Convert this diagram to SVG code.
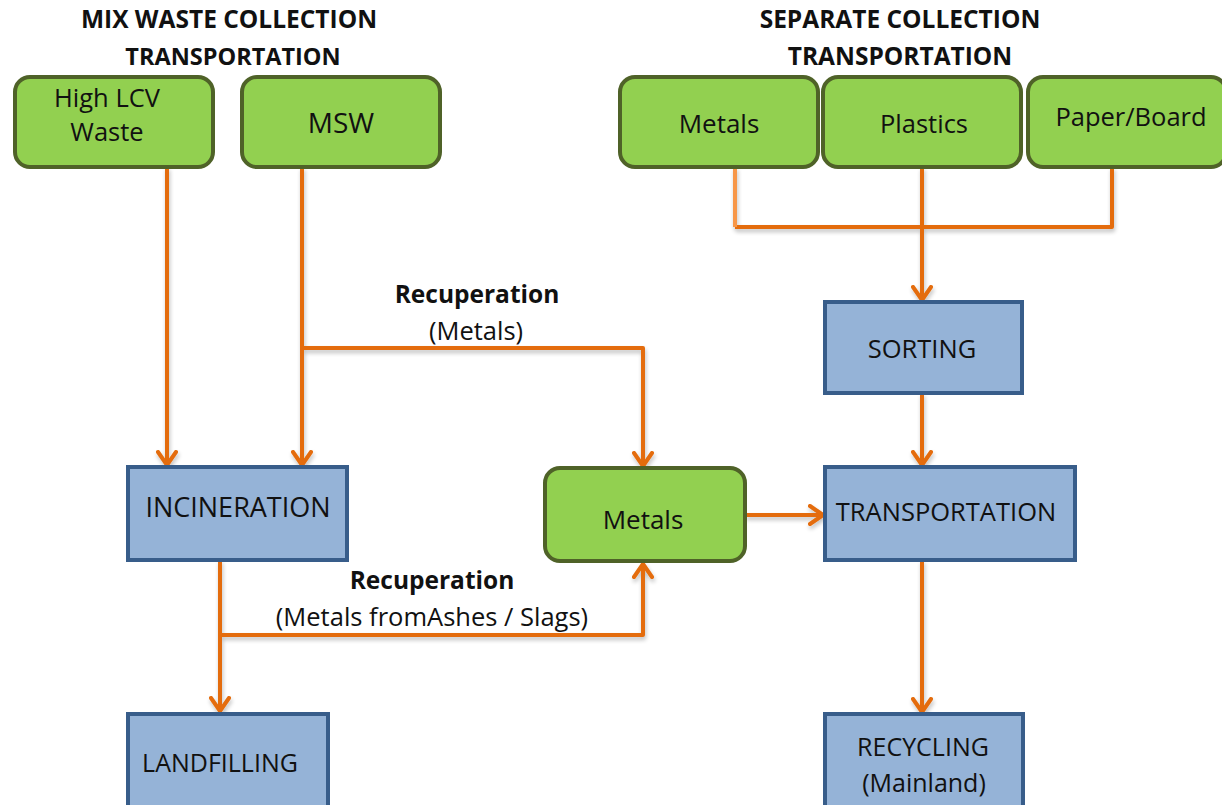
<svg xmlns="http://www.w3.org/2000/svg" width="1222" height="805" viewBox="0 0 1222 805">
<style>
.g{fill:#92D050;stroke:#4F6228;stroke-width:4}
.b{fill:#95B3D7;stroke:#385D8A;stroke-width:4}
.t{font-family:"Open Sans","Noto Sans",sans-serif;font-size:25.5px;fill:#111;text-anchor:middle}
.h{font-family:"Open Sans","Noto Sans",sans-serif;font-size:24.5px;font-weight:bold;fill:#111;text-anchor:middle}
.l{fill:none;stroke:#E46C0A;stroke-width:4;stroke-linejoin:round}
</style>
<defs>
<marker id="ah" viewBox="0 0 17 22" refX="15" refY="11" markerWidth="17" markerHeight="22" markerUnits="userSpaceOnUse" orient="auto">
<path d="M2,2 L15,11 L2,20" fill="none" stroke="#E46C0A" stroke-width="4" stroke-linecap="round" stroke-linejoin="round"/>
</marker>
<filter id="sh" x="-5%" y="-5%" width="110%" height="130%">
<feGaussianBlur in="SourceAlpha" stdDeviation="2"/>
<feOffset dx="1" dy="3"/>
<feComponentTransfer><feFuncA type="linear" slope="0.25"/></feComponentTransfer>
<feMerge><feMergeNode/><feMergeNode in="SourceGraphic"/></feMerge>
</filter>
</defs>
<rect width="1222" height="805" fill="#fff"/>
<text class="h" x="229" y="28">MIX WASTE COLLECTION</text>
<text class="h" x="233" y="65" style="font-size:23.5px">TRANSPORTATION</text>
<text class="h" x="900" y="28">SEPARATE COLLECTION</text>
<text class="h" x="900" y="65">TRANSPORTATION</text>
<g id="connectors" filter="url(#sh)">
<path class="l" d="M167,167 V465" marker-end="url(#ah)"/>
<path class="l" d="M302,167 V465" marker-end="url(#ah)"/>
<path class="l" d="M302,348 H643 V466" marker-end="url(#ah)"/>
<path class="l" d="M220,560 V711" marker-end="url(#ah)"/>
<path class="l" d="M220,635 H643 V564" marker-end="url(#ah)"/>
<path class="l" d="M745,515 H823" marker-end="url(#ah)"/>
<path class="l" d="M735,227 H1112 V167"/>
<path class="l" d="M735,167 V227" style="stroke:#F79646"/>
<path class="l" d="M922,167 V300" marker-end="url(#ah)"/>
<path class="l" d="M922,393 V465" marker-end="url(#ah)"/>
<path class="l" d="M922,560 V712" marker-end="url(#ah)"/>
</g>
<text class="h" x="477" y="303">Recuperation</text>
<text class="t" x="476" y="340">(Metals)</text>
<text class="h" x="432" y="589">Recuperation</text>
<text class="t" x="432" y="626">(Metals fromAshes / Slags)</text>
<g id="n-highlcv"><rect class="g" x="15" y="77" width="198" height="90" rx="15"/><text class="t" x="107" y="107">High LCV</text><text class="t" x="107" y="141">Waste</text></g>
<g id="n-msw"><rect class="g" x="242" y="77" width="198" height="90" rx="15"/><text class="t" x="341" y="133" style="font-size:28px">MSW</text></g>
<g id="n-metals-top"><rect class="g" x="620" y="77" width="198" height="90" rx="15"/><text class="t" x="719" y="133" style="font-size:26px">Metals</text></g>
<g id="n-plastics"><rect class="g" x="823" y="77" width="198" height="90" rx="15"/><text class="t" x="924" y="133">Plastics</text></g>
<g id="n-paper"><rect class="g" x="1028" y="77" width="198" height="90" rx="15"/><text class="t" x="1131" y="126">Paper/Board</text></g>
<g id="n-incineration"><rect class="b" x="128" y="467" width="219" height="93"/><text class="t" x="238" y="517" style="font-size:27px">INCINERATION</text></g>
<g id="n-metals-mid"><rect class="g" x="545" y="468" width="200" height="93" rx="15"/><text class="t" x="643" y="529" style="font-size:26px">Metals</text></g>
<g id="n-sorting"><rect class="b" x="825" y="302" width="197" height="91"/><text class="t" x="922" y="358">SORTING</text></g>
<g id="n-transportation"><rect class="b" x="825" y="467" width="250" height="93"/><text class="t" x="946" y="521">TRANSPORTATION</text></g>
<g id="n-landfilling"><rect class="b" x="128" y="714" width="200" height="100"/><text class="t" x="220" y="772" style="font-size:25px">LANDFILLING</text></g>
<g id="n-recycling"><rect class="b" x="825" y="714" width="198" height="100"/><text class="t" x="923" y="756" style="font-size:25px">RECYCLING</text><text class="t" x="924" y="792" style="font-size:25px">(Mainland)</text></g>
</svg>
